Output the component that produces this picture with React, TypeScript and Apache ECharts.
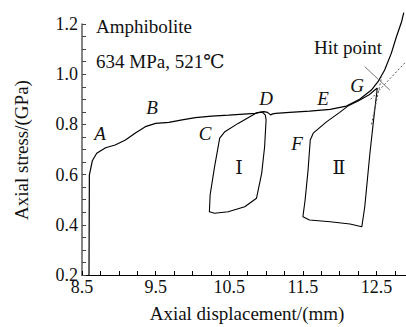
import React, { useEffect, useRef } from "react";
import * as echarts from "echarts";

// Main loading curve (axial displacement mm, axial stress GPa)
const mainX = [8.595, 8.6, 8.64, 8.7, 8.82, 8.95, 9.09, 9.22, 9.36, 9.5, 9.68, 9.86, 10.04, 10.26, 10.49, 10.85, 10.93, 10.97, 11.02, 11.06, 11.09, 11.13, 11.32, 11.59, 11.87, 12.09, 12.27, 12.43, 12.52, 12.61, 12.7, 12.77, 12.84, 12.87];
const mainY = [0.2, 0.598, 0.655, 0.685, 0.707, 0.718, 0.738, 0.765, 0.791, 0.804, 0.808, 0.818, 0.827, 0.833, 0.837, 0.844, 0.849, 0.851, 0.848, 0.838, 0.842, 0.844, 0.848, 0.853, 0.86, 0.873, 0.9, 0.937, 0.97, 1.017, 1.083, 1.149, 1.209, 1.245];

// Loop I
const loop1X = [10.95, 10.88, 10.62, 10.44, 10.37, 10.3, 10.24, 10.23, 10.3, 10.485, 10.71, 10.87, 10.94, 10.98, 11.0, 10.99, 10.95];
const loop1Y = [0.849, 0.847, 0.804, 0.771, 0.745, 0.631, 0.519, 0.452, 0.446, 0.452, 0.472, 0.506, 0.605, 0.711, 0.818, 0.837, 0.849];

// Loop II
const loop2X = [12.51, 12.4, 12.25, 12.11, 12.0, 11.82, 11.64, 11.6, 11.57, 11.53, 11.5, 11.59, 11.87, 12.14, 12.3, 12.34, 12.41, 12.46, 12.51];
const loop2Y = [0.945, 0.918, 0.893, 0.873, 0.848, 0.81, 0.765, 0.738, 0.618, 0.499, 0.432, 0.419, 0.412, 0.403, 0.392, 0.472, 0.685, 0.818, 0.945];

// Tangent (dotted) lines and cross mark at hit point
const tangent1X = [12.42, 12.9];
const tangent1Y = [0.9, 1.05];
const tangent2X = [12.43, 12.57];
const tangent2Y = [0.8, 0.99];
const crossX = [12.34, 12.68];
const crossY = [1.03, 0.937];

const xTickLabels = [8.5, 9.5, 10.5, 11.5, 12.5];
const yTickLabels = [0.2, 0.4, 0.6, 0.8, 1.0, 1.2];

const FONT = '"Liberation Serif", "Times New Roman", "DejaVu Serif", serif';

const zip = (xs: number[], ys: number[]) => xs.map((x, i) => [x, ys[i]]);

export default function App() {
  const ref = useRef<HTMLDivElement>(null);
  useEffect(() => {
    if (!ref.current) return;
    const chart = echarts.init(ref.current, null, { renderer: "svg" });
    const lineSeries = (data: number[][], color: string, width: number, type: any = "solid") => ({
      type: "line",
      data,
      showSymbol: false,
      symbol: "none",
      clip: false,
      lineStyle: { color, width, type },
      z: 3,
    });
    const txt = (text: string, x: number, y: number, opts: any = {}) => ({
      type: "text",
      x,
      y,
      style: {
        text,
        font: `${opts.italic ? "italic " : ""}${opts.size || 19}px ${FONT}`,
        fill: "#111",
        align: opts.align || "center",
        verticalAlign: "middle",
      },
      rotation: opts.rotation || 0,
    });
    chart.setOption({
      animation: false,
      backgroundColor: "#fff",
      grid: { left: 82, right: 0, top: 24, bottom: 52 },
      xAxis: {
        type: "value",
        min: 8.5,
        max: 12.9,
        interval: 0.25,
        axisLine: { show: true, lineStyle: { color: "#000", width: 1.2 } },
        axisTick: { show: true, inside: true, length: 4, lineStyle: { color: "#000" } },
        splitLine: { show: false },
        axisLabel: {
          color: "#111",
          fontFamily: FONT,
          fontSize: 18,
          margin: 3,
          showMaxLabel: false,
          formatter: (v: number) => {
            const hit = xTickLabels.find((t) => Math.abs(t - v) < 1e-6);
            return hit !== undefined ? hit.toFixed(1) : "";
          },
        },
      },
      yAxis: {
        type: "value",
        min: 0.2,
        max: 1.2,
        interval: 0.05,
        axisLine: { show: true, lineStyle: { color: "#666", width: 1.6 } },
        axisTick: { show: true, inside: true, length: 4, lineStyle: { color: "#444" } },
        splitLine: { show: false },
        axisLabel: {
          color: "#111",
          fontFamily: FONT,
          fontSize: 18,
          margin: 4,
          verticalAlign: "middle",
          padding: [0, 0, 12, 0],
          formatter: (v: number) => {
            const hit = yTickLabels.find((t) => Math.abs(t - v) < 1e-6);
            return hit !== undefined ? hit.toFixed(1) : "";
          },
        },
      },
      series: [
        lineSeries(zip(mainX, mainY), "#000", 1.2),
        lineSeries(zip(loop1X, loop1Y), "#000", 1.1),
        lineSeries(zip(loop2X, loop2Y), "#000", 1.1),
        lineSeries(zip(tangent1X, tangent1Y), "#555", 1, [2, 2]),
        lineSeries(zip(tangent2X, tangent2Y), "#555", 1, [2, 2]),
        lineSeries(zip(crossX, crossY), "#777", 1),
      ],
      graphic: [
        txt("Amphibolite", 96, 26, { align: "left" }),
        txt("634 MPa, 521℃", 96, 61, { align: "left" }),
        txt("Hit point", 348, 47),
        txt("A", 100, 133, { italic: true }),
        txt("B", 152, 107, { italic: true }),
        txt("C", 205, 133, { italic: true }),
        txt("D", 266, 98, { italic: true }),
        txt("E", 323, 98, { italic: true }),
        txt("F", 297, 143, { italic: true }),
        txt("G", 357, 85, { italic: true }),
        txt("Ⅰ", 239, 167),
        txt("Ⅱ", 339, 167),
        txt("Axial displacement/(mm)", 247, 313),
        txt("Axial stress/(GPa)", 21, 150, { rotation: Math.PI / 2 }),
      ],
    });
    return () => chart.dispose();
  }, []);
  return (
    <div
      ref={ref}
      style={{ position: "fixed", left: 0, top: 0, width: 406, height: 327 }}
    />
  );
}
